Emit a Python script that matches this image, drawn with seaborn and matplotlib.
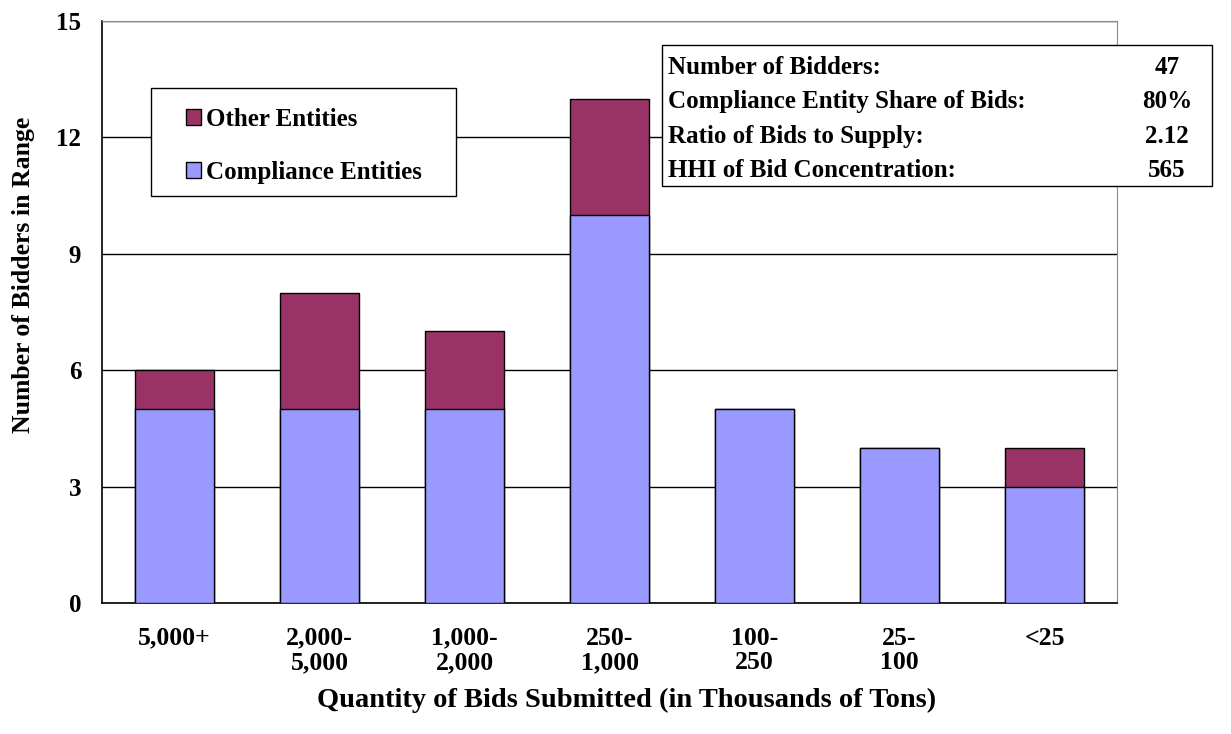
import numpy as np
import pandas as pd
import matplotlib
matplotlib.use("Agg")
import matplotlib.pyplot as plt
import seaborn as sns
from matplotlib.patches import Patch, Rectangle

categories = ["5,000+", "2,000-\n5,000", "1,000-\n2,000", "250-\n1,000", "100-\n250", "25-\n100", "<25"]
compliance = [5, 5, 5, 10, 5, 4, 3]
other = [1, 3, 2, 3, 0, 0, 1]
stat_labels = ["Number of Bidders:", "Compliance Entity Share of Bids:",
               "Ratio of Bids to Supply:", "HHI of Bid Concentration:"]
stat_values = ["47", "80%", "2.12", "565"]

c_comp = "#9999FF"
c_other = "#993366"

sns.set_style("white")
plt.rcParams["font.family"] = "Liberation Serif"
plt.rcParams["text.color"] = "black"
plt.rcParams["axes.labelcolor"] = "black"
plt.rcParams["xtick.color"] = "black"
plt.rcParams["ytick.color"] = "black"

df = pd.DataFrame({"cat": categories, "compliance": compliance,
                   "total": np.array(compliance) + np.array(other)})

fig = plt.figure(figsize=(12.31, 7.34), dpi=100)
ax = fig.add_axes([0.0829, 0.1785, 0.8245, 0.7929])

# stacked look: totals in maroon, compliance drawn over them
sns.barplot(data=df, x="cat", y="total", color=c_other, width=0.55,
            edgecolor="black", linewidth=1, saturation=1, ax=ax, zorder=3)
sns.barplot(data=df, x="cat", y="compliance", color=c_comp, width=0.55,
            edgecolor="black", linewidth=1, saturation=1, ax=ax, zorder=4)

ax.set_ylim(0, 15)
ax.set_xlim(-0.5, len(categories) - 0.5)
ax.set_yticks([0, 3, 6, 9, 12, 15])
ax.set_yticklabels(["0", "3", "6", "9", "12", "15"], fontsize=18, fontweight="bold")
ax.yaxis.grid(True, color="black", linewidth=1, zorder=0)
ax.set_axisbelow(True)
for s in ["top", "right"]:
    ax.spines[s].set_color("#888888")
for s in ["left", "bottom"]:
    ax.spines[s].set_color("black")
    ax.spines[s].set_linewidth(1.2)

# x ticks between categories
ax.set_xticks(np.arange(len(categories)))
ax.set_xticklabels(categories, fontsize=18.5, fontweight="bold", linespacing=1.1)
ax.tick_params(axis="x", length=0, pad=17)
ax.set_xticks(np.arange(-0.5, len(categories), 1), minor=True)
ax.tick_params(axis="x", which="minor", length=5, direction="out", width=1.2)
ax.tick_params(axis="y", length=5, direction="out", width=1.2, pad=10)

ax.set_xlabel("Quantity of Bids Submitted (in Thousands of Tons)", fontsize=20.5,
              fontweight="bold")
ax.xaxis.set_label_coords(0.517, -0.146)
ax.set_ylabel("Number of Bidders in Range", fontsize=18.5, fontweight="bold")
ax.yaxis.set_label_coords(-0.066, 0.5636)

# legend frame drawn separately so the padding matches
ax.add_patch(Rectangle((0.0483, 0.6993), 0.3005, 0.1857, transform=ax.transAxes,
                       facecolor="white", edgecolor="black", linewidth=1,
                       clip_on=False, zorder=5))
handles = [Patch(facecolor=c_other, edgecolor="black"),
           Patch(facecolor=c_comp, edgecolor="black")]
leg = ax.legend(handles, ["Other Entities", "Compliance Entities"],
                loc="upper left", bbox_to_anchor=(0.0828, 0.851),
                prop={"size": 18, "weight": "bold"}, frameon=False,
                handlelength=0.6, handleheight=0.6,
                handletextpad=0.2, labelspacing=1.2, borderpad=0, borderaxespad=0)
leg.set_zorder(6)

# stats box
x0, x1 = 0.5517, 1.0936
y0, y1 = 0.7165, 0.9588
ax.add_patch(Rectangle((x0, y0), x1 - x0, y1 - y0, transform=ax.transAxes,
                       facecolor="white", edgecolor="black", linewidth=1,
                       clip_on=False, zorder=6))
row_y = [0.9205, 0.8615, 0.8015, 0.7434]
for lab, val, yy in zip(stat_labels, stat_values, row_y):
    ax.text(0.5576, yy, lab, transform=ax.transAxes, fontsize=18, fontweight="bold",
            ha="left", va="center", zorder=7, clip_on=False)
    ax.text(1.0493, yy, val, transform=ax.transAxes, fontsize=18, fontweight="bold",
            ha="center", va="center", zorder=7, clip_on=False)

fig.savefig("out.png", dpi=100)
